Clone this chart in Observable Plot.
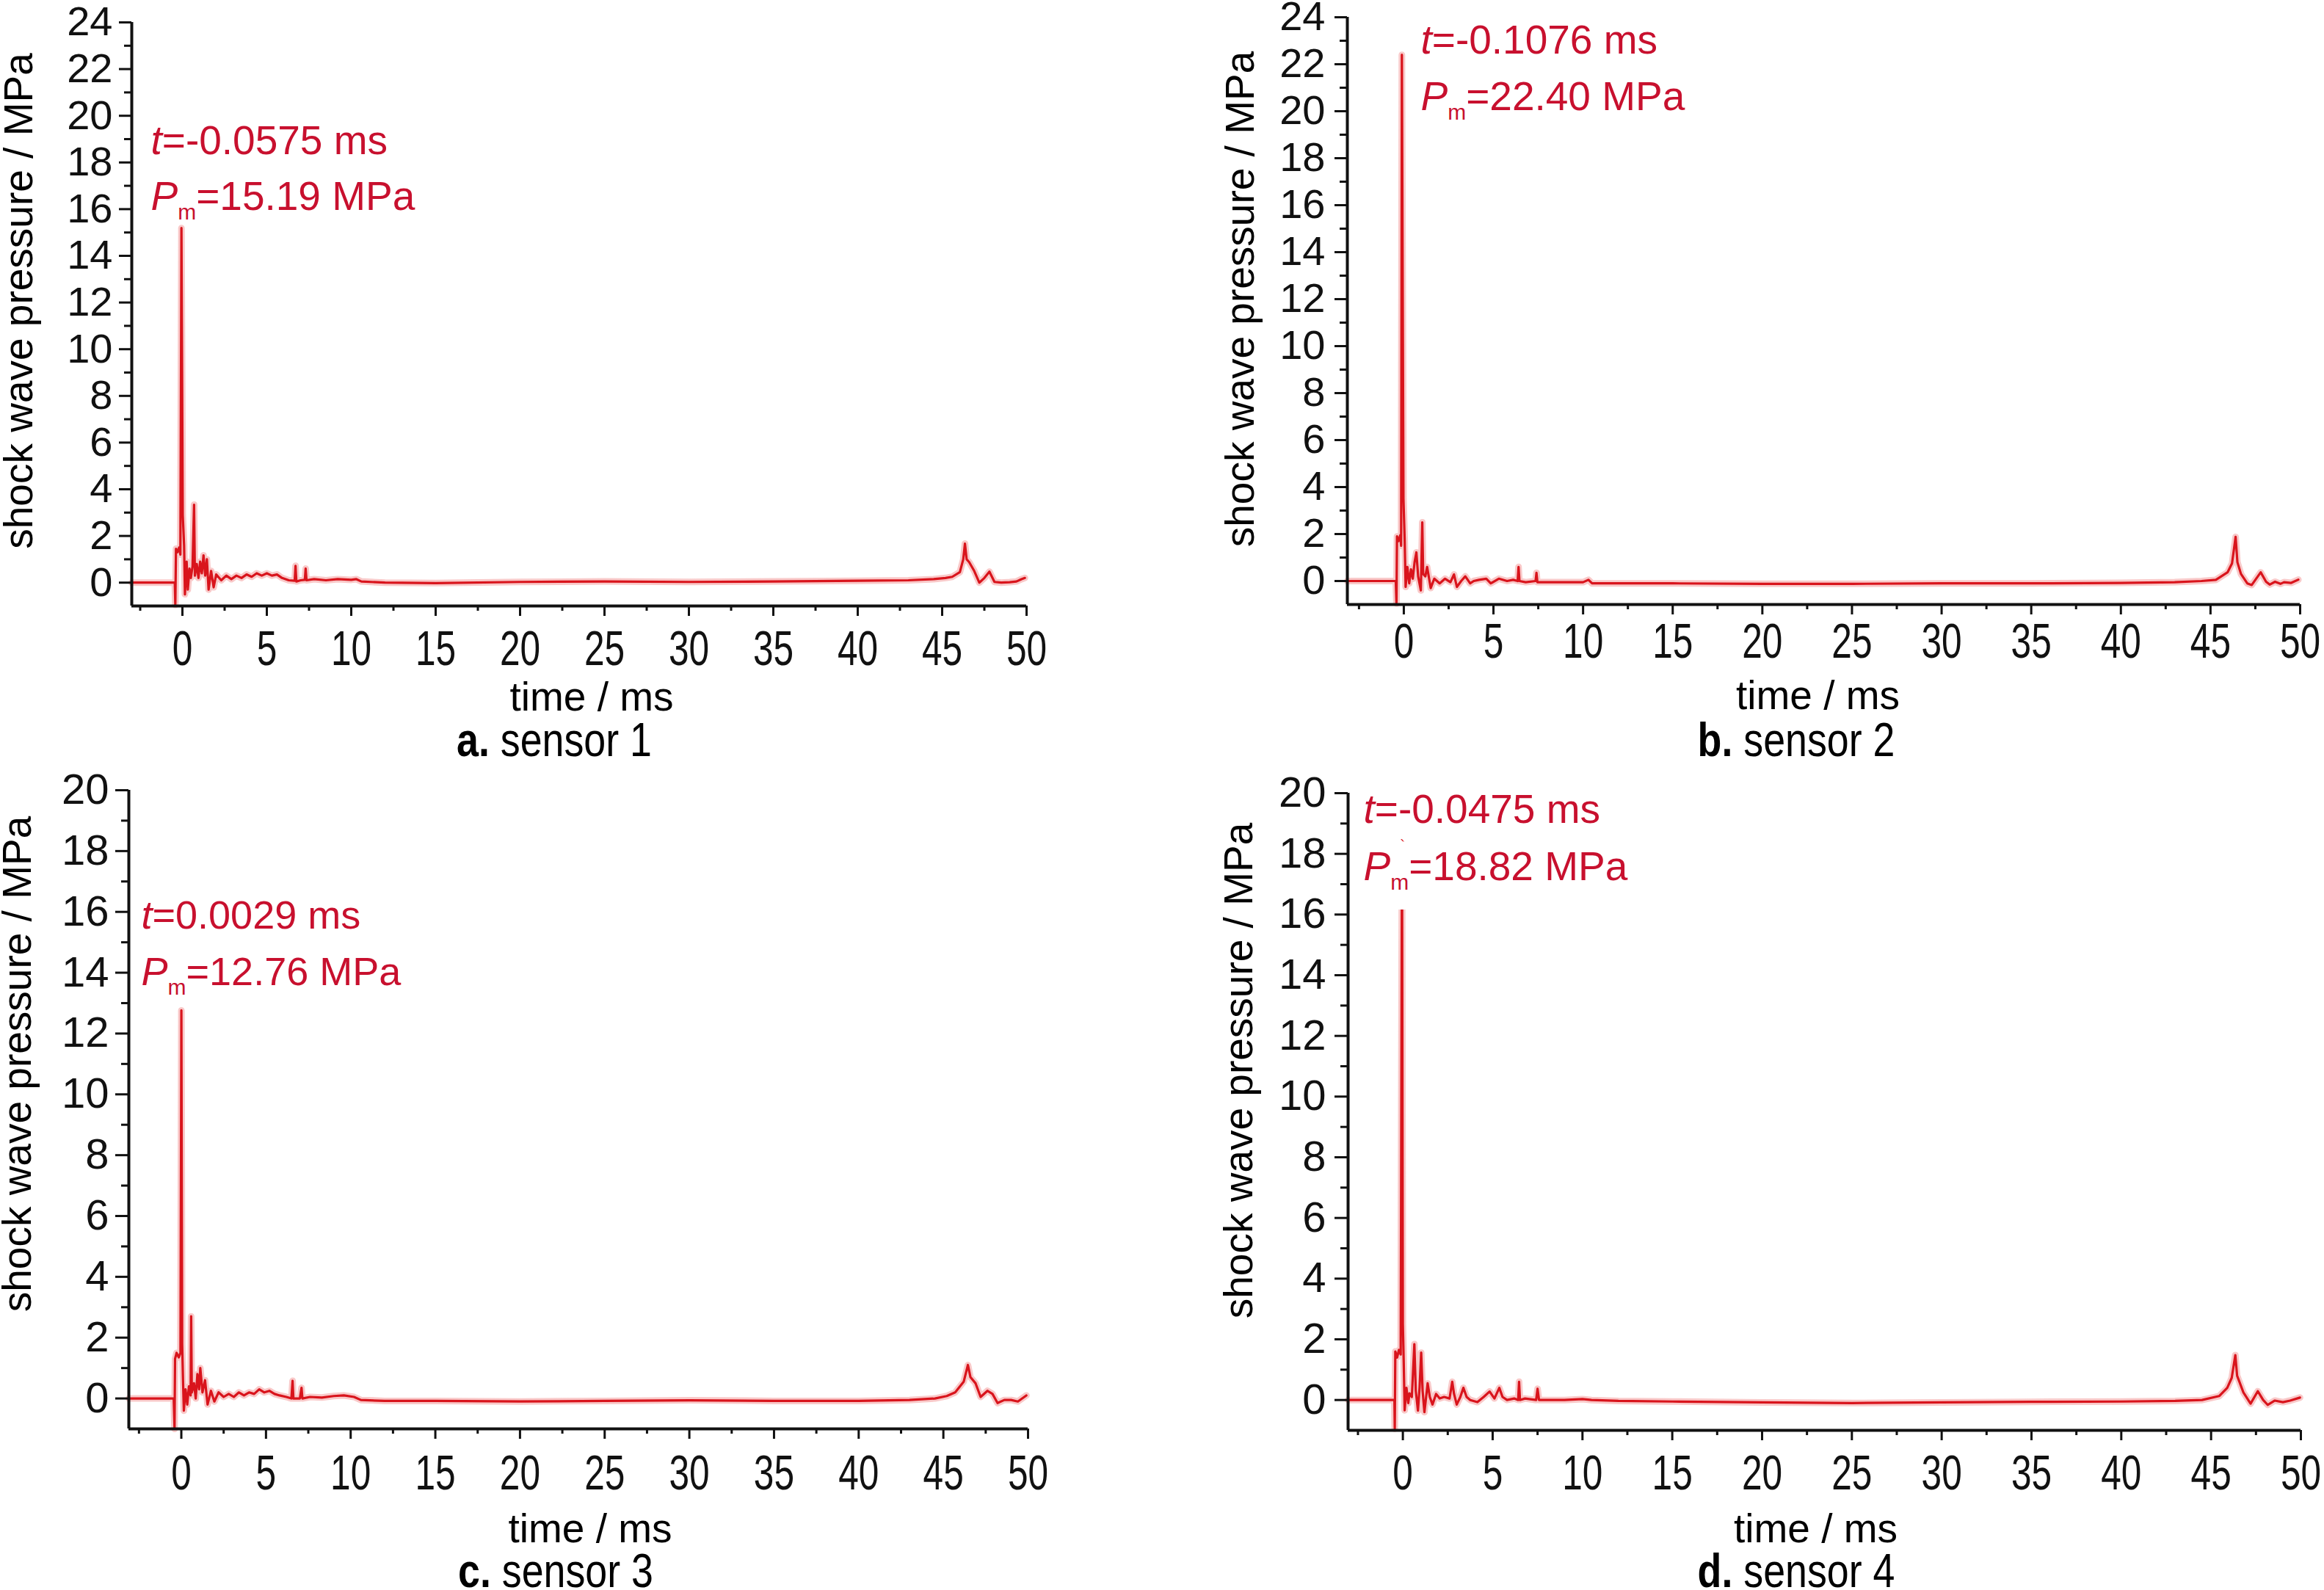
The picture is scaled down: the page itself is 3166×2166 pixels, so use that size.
<!DOCTYPE html>
<html>
<head>
<meta charset="utf-8">
<script src="https://cdn.jsdelivr.net/npm/d3@7"></script>
<script src="https://cdn.jsdelivr.net/npm/@observablehq/plot@0.6"></script>
<style>
html,body{margin:0;padding:0;background:#fff;}
#root{position:relative;width:3166px;height:2166px;overflow:hidden;background:#fff;font-family:"Liberation Sans",Arial,sans-serif;}
.cap{position:absolute;font-size:64px;line-height:1;white-space:nowrap;color:#000;transform:translateX(-50%) scaleX(0.84);}
.cap b{font-weight:bold;}
</style>
</head>
<body>
<div id="root"></div>
<script>
// ---------------- data (time in ms, pressure in MPa) ----------------
const sensor1 = [[-3,0],[-0.45,0],[-0.42,-0.95],[-0.38,1.45],[-0.3,1.3],[-0.2,1.5],[-0.12,1.2],[-0.0575,15.19],[0.02,2.9],[0.1,1.6],[0.15,-0.5],[0.25,0.9],[0.32,-0.3],[0.42,0.6],[0.5,0.2],[0.6,0.7],[0.69,3.34],[0.74,0.3],[0.85,0.8],[0.95,0.2],[1.05,0.9],[1.15,0.4],[1.25,1.17],[1.35,0.3],[1.45,1.0],[1.55,-0.3],[1.7,0.5],[1.85,-0.2],[2.0,0.35],[2.3,0.1],[2.6,0.3],[2.9,0.15],[3.2,0.3],[3.5,0.2],[3.8,0.35],[4.1,0.25],[4.4,0.4],[4.7,0.3],[5.0,0.4],[5.3,0.3],[5.6,0.35],[5.9,0.2],[6.3,0.1],[6.65,0.08],[6.7,0.72],[6.75,0.05],[7.0,0.1],[7.25,0.12],[7.3,0.6],[7.35,0.1],[7.8,0.15],[8.5,0.1],[9.2,0.15],[10.0,0.12],[10.3,0.15],[10.6,0.05],[12,0.0],[15,-0.02],[20,0.03],[25,0.05],[30,0.03],[35,0.05],[40,0.08],[43,0.1],[44.5,0.15],[45.2,0.2],[45.6,0.25],[46.05,0.45],[46.25,1.0],[46.35,1.67],[46.45,1.0],[46.6,0.88],[46.9,0.5],[47.2,0.0],[47.5,0.2],[47.8,0.47],[48.1,0.03],[48.5,0.0],[49.0,0.02],[49.4,0.05],[49.7,0.15],[49.9,0.2]];

const sensor2 = [[-3.15,0],[-0.45,0],[-0.41,-0.95],[-0.38,1.9],[-0.3,1.7],[-0.2,1.95],[-0.15,1.5],[-0.1076,22.4],[-0.02,3.5],[0.05,1.7],[0.1,-0.25],[0.2,0.6],[0.3,-0.1],[0.4,0.5],[0.5,0.1],[0.6,0.8],[0.7,1.22],[0.8,0.2],[0.95,-0.4],[1.03,2.5],[1.08,0.3],[1.2,0.2],[1.3,0.6],[1.5,-0.3],[1.7,0.1],[2.0,-0.1],[2.3,0.1],[2.6,-0.05],[2.8,0.28],[2.96,-0.25],[3.2,0.0],[3.43,0.2],[3.7,-0.1],[3.9,0.0],[4.2,0.05],[4.6,0.1],[4.85,-0.1],[5.3,0.1],[5.76,0.0],[6.1,0.05],[6.35,0.0],[6.4,0.6],[6.45,0.0],[6.8,-0.05],[7.35,0.0],[7.4,0.35],[7.45,-0.05],[8.5,-0.05],[10,-0.05],[10.3,0.05],[10.5,-0.1],[15,-0.1],[20,-0.12],[25,-0.12],[30,-0.1],[35,-0.1],[40,-0.08],[43,-0.05],[44.5,0.0],[45.3,0.05],[45.95,0.37],[46.2,0.75],[46.4,1.88],[46.5,0.8],[46.7,0.3],[47.05,-0.1],[47.3,-0.17],[47.8,0.37],[48.1,-0.03],[48.3,-0.15],[48.6,-0.03],[48.9,-0.12],[49.1,-0.05],[49.5,-0.08],[49.9,0.06]];

const sensor3 = [[-3.1,0],[-0.45,0],[-0.4,-1.0],[-0.37,1.3],[-0.28,1.5],[-0.15,1.35],[-0.05,1.5],[0.0029,12.76],[0.05,1.8],[0.1,0.6],[0.15,-0.4],[0.25,0.3],[0.35,-0.2],[0.45,0.4],[0.55,0.1],[0.58,2.7],[0.62,0.2],[0.75,0.5],[0.85,0.0],[0.95,0.8],[1.05,0.3],[1.12,1.0],[1.25,0.2],[1.4,0.6],[1.55,-0.2],[1.75,0.25],[1.95,-0.1],[2.2,0.2],[2.5,0.05],[2.8,0.15],[3.1,0.05],[3.4,0.2],[3.7,0.1],[4.0,0.2],[4.3,0.15],[4.6,0.3],[4.9,0.2],[5.2,0.25],[5.5,0.15],[5.8,0.1],[6.2,0.05],[6.5,0.0],[6.57,0.58],[6.62,0.0],[7.0,0.0],[7.1,0.35],[7.15,0.0],[7.6,0.05],[8.3,0.03],[9.0,0.08],[9.6,0.1],[10.2,0.05],[10.6,-0.05],[12,-0.08],[15,-0.08],[20,-0.1],[25,-0.08],[30,-0.06],[35,-0.08],[40,-0.08],[43,-0.05],[44.5,0.0],[45.2,0.08],[45.7,0.2],[46.2,0.55],[46.45,1.1],[46.6,0.7],[46.9,0.5],[47.2,0.05],[47.6,0.25],[47.9,0.15],[48.2,-0.15],[48.6,-0.05],[49.0,-0.05],[49.4,-0.1],[49.9,0.1]];

const sensor4 = [[-3.05,0],[-0.47,0],[-0.45,-0.95],[-0.42,1.6],[-0.32,1.4],[-0.22,1.65],[-0.12,1.5],[-0.0475,18.82],[0.0,2.5],[0.05,1.2],[0.1,-0.34],[0.2,0.4],[0.3,-0.1],[0.37,0.22],[0.5,0.1],[0.64,1.84],[0.72,0.3],[0.84,-0.35],[0.93,0.4],[1.02,1.56],[1.1,0.3],[1.2,-0.4],[1.38,0.55],[1.5,0.1],[1.65,-0.15],[1.85,0.2],[2.05,0.05],[2.3,0.1],[2.6,0.05],[2.75,0.6],[2.85,0.2],[3.0,-0.15],[3.2,0.1],[3.37,0.4],[3.55,0.1],[3.75,0.0],[4.15,-0.07],[4.5,0.1],[4.83,0.28],[5.1,0.05],[5.37,0.4],[5.55,0.1],[5.8,0.0],[6.2,0.05],[6.42,0.0],[6.47,0.6],[6.52,0.0],[6.8,0.05],[7.42,0.0],[7.5,0.37],[7.58,0.0],[8.2,0.0],[9.0,0.0],[10,0.03],[10.5,0.0],[12,-0.03],[15,-0.05],[20,-0.08],[25,-0.1],[30,-0.08],[35,-0.06],[40,-0.05],[43,-0.03],[44.5,0.0],[45.45,0.13],[45.9,0.4],[46.15,0.73],[46.35,1.48],[46.45,0.8],[46.8,0.25],[47.2,-0.12],[47.6,0.29],[47.9,0.0],[48.15,-0.16],[48.55,-0.02],[49.0,-0.07],[49.4,-0.02],[49.95,0.08]];

// tick values
const xMajorTicks = [0,5,10,15,20,25,30,35,40,45,50];
const xMinorTicks = [-2.5,2.5,7.5,12.5,17.5,22.5,27.5,32.5,37.5,42.5,47.5];
const yMajorTicks24 = [0,2,4,6,8,10,12,14,16,18,20,22,24];
const yMinorTicks24 = [1,3,5,7,9,11,13,15,17,19,21,23];
const yMajorTicks20 = [0,2,4,6,8,10,12,14,16,18,20];
const yMinorTicks20 = [1,3,5,7,9,11,13,15,17,19];

// texts
const xLabel = "time / ms";
const yLabel = "shock wave pressure / MPa";
const peakTimes = ["t=-0.0575 ms","t=-0.1076 ms","t=0.0029 ms","t=-0.0475 ms"];
const peakPressures = ["Pm=15.19 MPa","Pm=22.40 MPa","Pm=12.76 MPa","Pm=18.82 MPa"];
const captionLetters = ["a.","b.","c.","d."];
const captionNames = ["sensor 1","sensor 2","sensor 3","sensor 4"];

// ---------------- layout (positions/styles) ----------------
const layouts = [
  {data: sensor1, xDomain:[-3,50], yDomain:[-1,24], yMajor:yMajorTicks24, yMinor:yMinorTicks24,
   box:[0,0,1583,1083], m:{l:179,r:185,t:30,b:258}, ySize:17, yPad:9, yFont:56, xPad:19,
   yl:{dx:-153,dy:-18}, xl:{dx:17,dy:142}, an:{dx:26,dy1:179,dy2:255,fs:55,h1:8,h2:8}, cap:[755,976]},
  {data: sensor2, xDomain:[-3.15,50], yDomain:[-1,24], yMajor:yMajorTicks24, yMinor:yMinorTicks24,
   box:[1583,0,1583,1083], m:{l:252,r:33,t:23,b:260}, ySize:17, yPad:13, yFont:56, xPad:11,
   yl:{dx:-145,dy:-16}, xl:{dx:-8,dy:142}, an:{dx:100,dy1:49,dy2:126,fs:55,h1:8,h2:8}, cap:[2447,976]},
  {data: sensor3, xDomain:[-3.1,50], yDomain:[-1,20], yMajor:yMajorTicks20, yMinor:yMinorTicks20,
   box:[0,1000,1583,1166], m:{l:175,r:183,t:76,b:220}, ySize:18, yPad:9, yFont:58, xPad:21,
   yl:{dx:-151,dy:-62}, xl:{dx:16,dy:154}, an:{dx:17,dy1:188,dy2:265,fs:54,h1:8,h2:8}, cap:[757,2108]},
  {data: sensor4, xDomain:[-3.05,50], yDomain:[-1,20], yMajor:yMajorTicks20, yMinor:yMinorTicks20,
   box:[1583,1000,1583,1166], m:{l:253,r:32,t:80,b:218}, ySize:18, yPad:12, yFont:58, xPad:19,
   yl:{dx:-148,dy:-56}, xl:{dx:-12,dy:152}, an:{dx:21,dy1:40,dy2:118,fs:55,h1:64,h2:54}, cap:[2447,2108]}
];

const root = document.getElementById("root");
const FONT = "'Liberation Sans', Arial, sans-serif";
const RED_TEXT = "#c8102e";
const AXIS = "#111";

function annotation(str, L, dy, halo) {
  const base = {text: d => d, frameAnchor: "top-left", textAnchor: "start", lineAnchor: "bottom",
                dx: L.an.dx, dy, fontSize: L.an.fs};
  return [
    Plot.text([str], {...base, fill: "white", stroke: "white", strokeWidth: halo, strokeLinejoin: "round"}),
    Plot.text([str], {...base, fill: RED_TEXT})
  ];
}

layouts.forEach((L, i) => {
  const [bx, by, bw, bh] = L.box;
  const a1 = annotation(peakTimes[i], L, L.an.dy1, L.an.h1);
  const a2 = annotation(peakPressures[i], L, L.an.dy2, L.an.h2);
  const svg = Plot.plot({
    width: bw, height: bh,
    marginLeft: L.m.l, marginRight: L.m.r, marginTop: L.m.t, marginBottom: L.m.b,
    x: {domain: L.xDomain, label: null},
    y: {domain: L.yDomain, label: null},
    style: {background: "transparent", fontFamily: FONT, fontSize: "56px", color: "#000", overflow: "visible"},
    marks: [
      Plot.line(L.data, {x: d => d[0], y: d => d[1], stroke: "#f07878", strokeOpacity: 0.4, strokeWidth: 9}),
      Plot.line(L.data, {x: d => d[0], y: d => d[1], stroke: "#d9141c", strokeWidth: 3.2}),
      a1[0], a2[0], a1[1], a2[1],
      Plot.axisY(L.yMinor, {tickSize: 10, tickFormat: () => "", color: AXIS, strokeWidth: 3, label: null}),
      Plot.axisY(L.yMajor, {tickSize: L.ySize, tickPadding: L.yPad, fontSize: L.yFont, color: AXIS, strokeWidth: 3, label: null}),
      Plot.axisX(xMinorTicks, {tickSize: 7, tickFormat: () => "", color: AXIS, strokeWidth: 3, label: null}),
      Plot.axisX(xMajorTicks, {tickSize: 14, tickPadding: L.xPad, fontSize: 67, color: AXIS, strokeWidth: 3, label: null}),
      Plot.ruleX([L.xDomain[0]], {y1: L.yDomain[0], y2: L.yDomain[1], stroke: AXIS, strokeWidth: 4}),
      Plot.ruleY([L.yDomain[0]], {x1: L.xDomain[0], x2: L.xDomain[1], stroke: AXIS, strokeWidth: 4}),
      Plot.text([yLabel], {text: d => d, frameAnchor: "left", rotate: -90, textAnchor: "middle", lineAnchor: "middle",
                           dx: L.yl.dx, dy: L.yl.dy, fontSize: 55, fill: "#000"}),
      Plot.text([xLabel], {text: d => d, frameAnchor: "bottom", textAnchor: "middle", lineAnchor: "bottom",
                           dx: L.xl.dx, dy: L.xl.dy, fontSize: 55, fill: "#000"})
    ]
  });
  svg.style.position = "absolute";
  svg.style.left = bx + "px";
  svg.style.top = by + "px";
  root.appendChild(svg);

  const NS = "http://www.w3.org/2000/svg";
  const addSpan = (el, txt, attrs = {}) => {
    const s = document.createElementNS(NS, "tspan");
    for (const k in attrs) s.setAttribute(k, attrs[k]);
    s.textContent = txt;
    el.appendChild(s);
  };
  // italic variables and subscript
  svg.querySelectorAll("text").forEach(el => {
    if (el.childElementCount) return;
    const s = el.textContent;
    if (s.startsWith("t=")) {
      el.textContent = "";
      addSpan(el, "t", {"font-style": "italic"});
      addSpan(el, s.slice(1));
    } else if (s.startsWith("Pm=")) {
      el.textContent = "";
      addSpan(el, "P", {"font-style": "italic"});
      addSpan(el, "m", {"font-size": 30, dy: 13});
      addSpan(el, s.slice(2), {dy: -13});
    }
  });
  // condensed x tick labels
  svg.querySelectorAll('g[aria-label^="x-axis"] text').forEach(el => {
    const s = el.textContent.trim();
    if (!s) return;
    const len = el.getComputedTextLength();
    if (len > 0) {
      el.setAttribute("textLength", (len * 0.74).toFixed(1));
      el.setAttribute("lengthAdjust", "spacingAndGlyphs");
    }
  });

  // caption below the panel
  const cap = document.createElement("div");
  cap.className = "cap";
  cap.style.left = L.cap[0] + "px";
  cap.style.top = L.cap[1] + "px";
  const b = document.createElement("b");
  b.textContent = captionLetters[i];
  cap.appendChild(b);
  cap.appendChild(document.createTextNode(" " + captionNames[i]));
  root.appendChild(cap);
});
</script>
</body>
</html>
